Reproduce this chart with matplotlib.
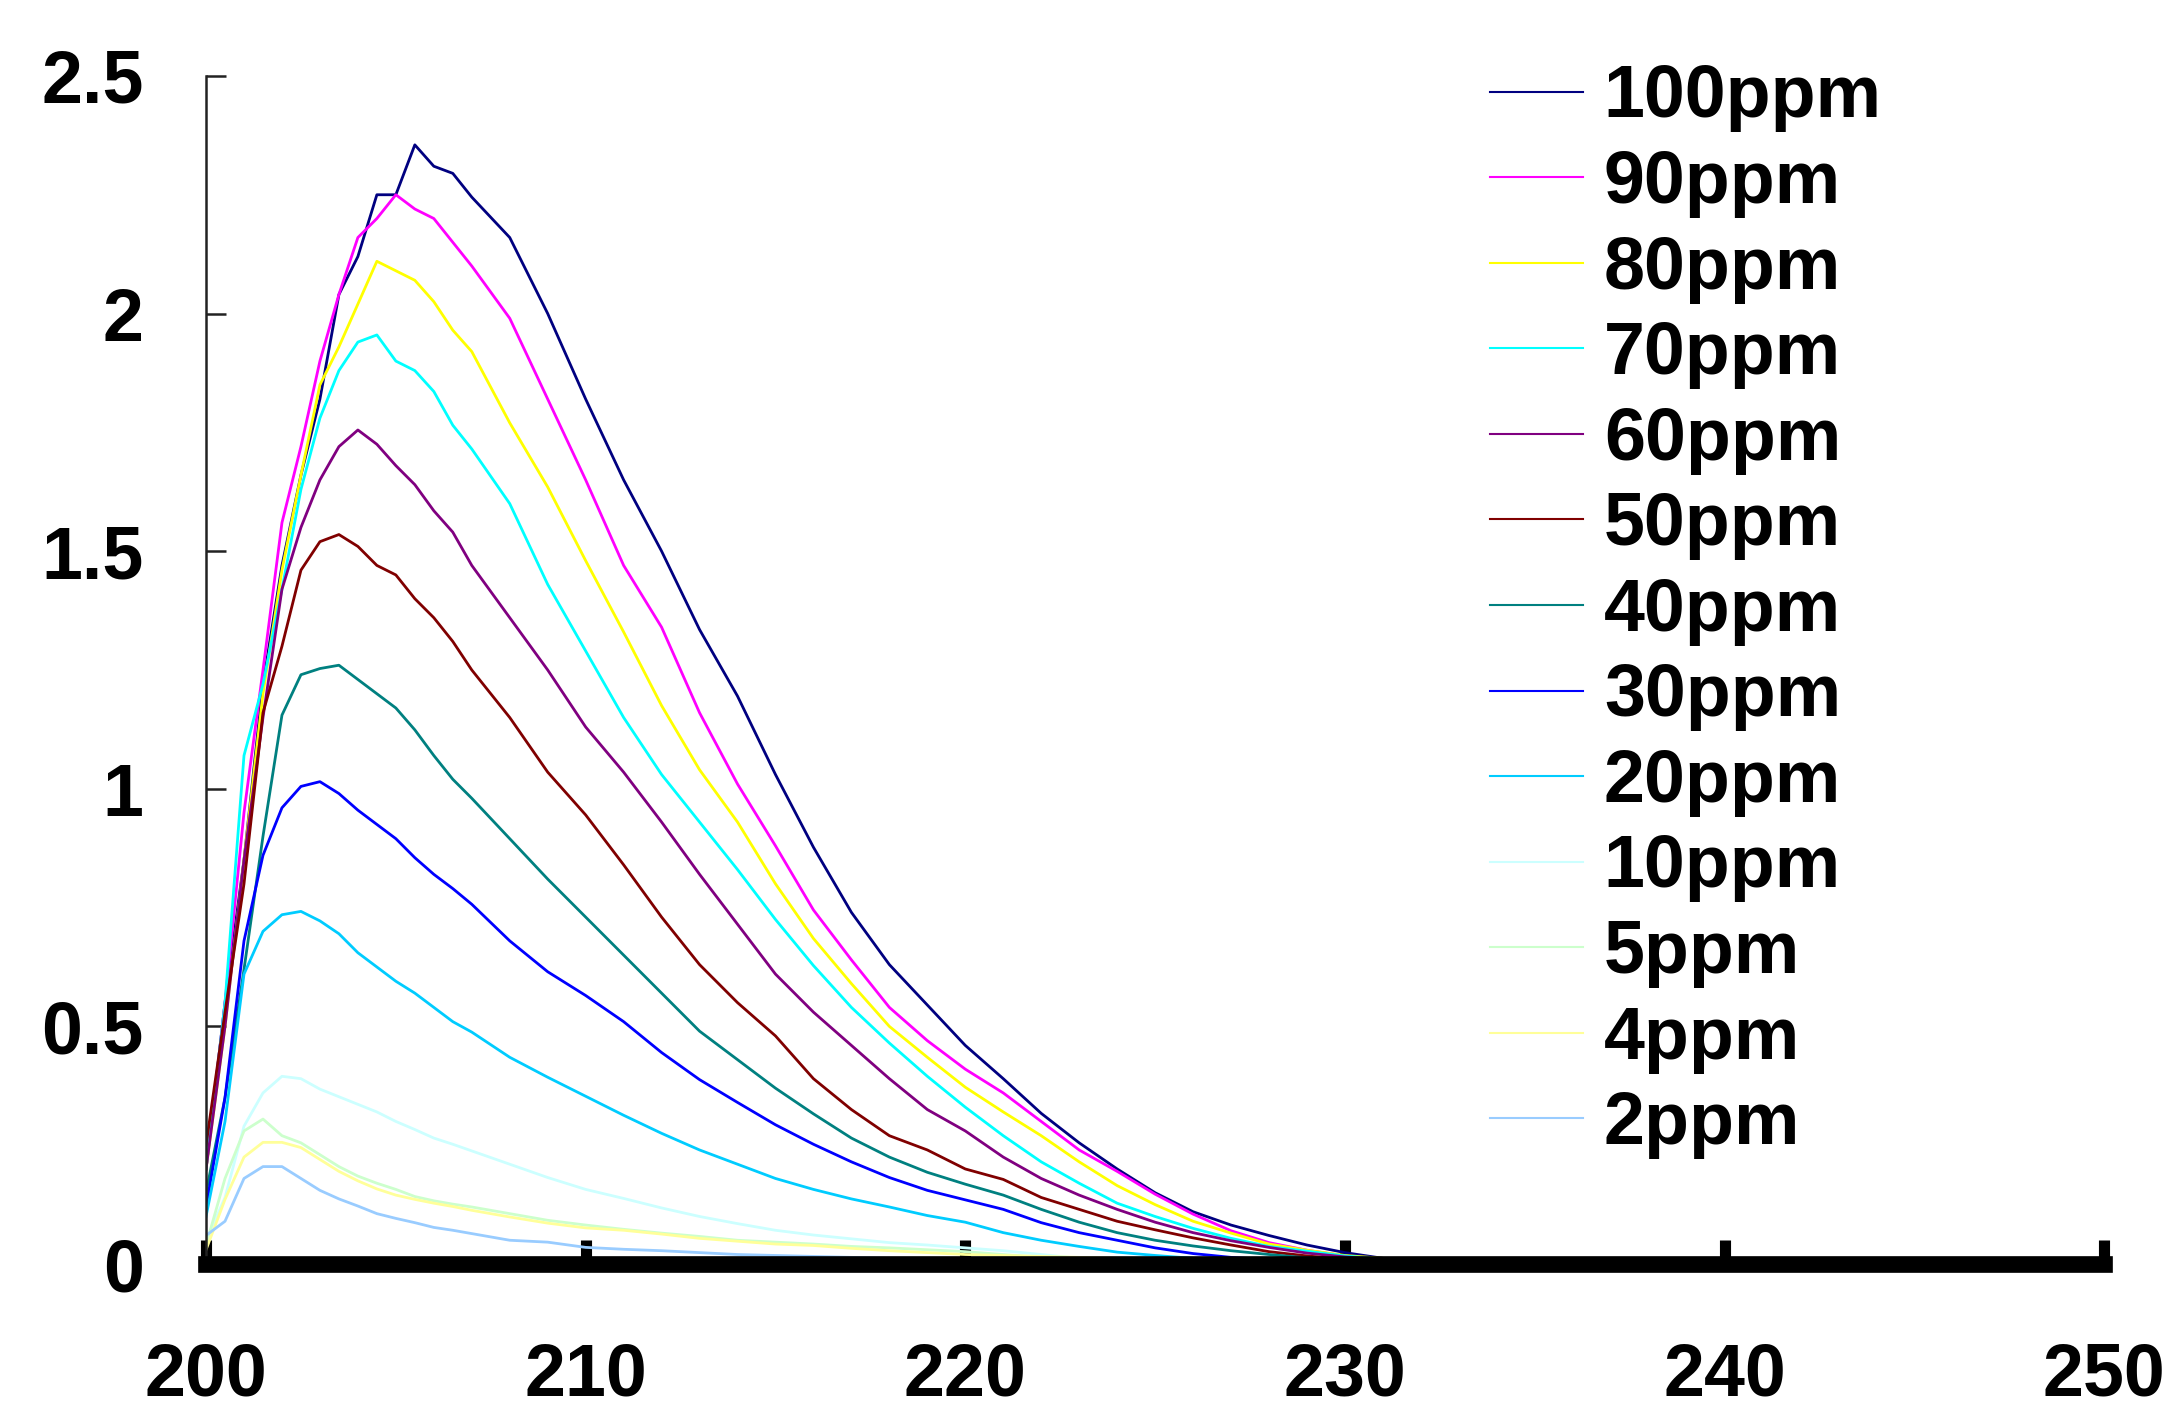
import matplotlib
matplotlib.use('Agg')
import matplotlib.pyplot as plt

plt.rcParams['font.family'] = ['Liberation Sans', 'DejaVu Sans']
plt.rcParams['font.weight'] = 'bold'

# wavelength grid (nm) used for every spectrum
wavelength = [200, 200.5, 201, 201.5, 202, 202.5, 203, 203.5, 204, 204.5, 205, 205.5, 206, 206.5,
              207, 208, 209, 210, 211, 212, 213, 214, 215, 216, 217, 218, 219, 220, 221, 222,
              223, 224, 225, 226, 227, 228, 229, 230, 231, 232, 233, 234, 235, 236, 237, 238]

# absorbance readings, one list per concentration
abs_100 = [0.20, 0.55, 0.85, 1.22, 1.47, 1.66, 1.82, 2.04, 2.12, 2.25, 2.25, 2.355, 2.31, 2.295,
           2.245, 2.16, 2.00, 1.82, 1.65, 1.50, 1.335, 1.195, 1.03, 0.877, 0.74, 0.63, 0.545, 0.46,
           0.39, 0.317, 0.255, 0.20, 0.15, 0.11, 0.082, 0.06, 0.04, 0.024, 0.012, 0.005, 0.002,
           0.001, 0.0, 0.0, 0.0, 0.0]
abs_90 = [0.20, 0.55, 0.95, 1.25, 1.56, 1.72, 1.90, 2.04, 2.16, 2.20, 2.25, 2.22, 2.20, 2.15,
          2.10, 1.99, 1.82, 1.65, 1.47, 1.34, 1.16, 1.01, 0.88, 0.745, 0.64, 0.54, 0.47, 0.41,
          0.36, 0.30, 0.24, 0.195, 0.147, 0.105, 0.07, 0.045, 0.029, 0.017, 0.008, 0.004, 0.002,
          0.001, 0.0, 0.0, 0.0, 0.0]
abs_80 = [0.20, 0.50, 0.85, 1.20, 1.46, 1.66, 1.85, 1.93, 2.02, 2.11, 2.09, 2.07, 2.025, 1.965,
          1.92, 1.77, 1.635, 1.48, 1.33, 1.175, 1.04, 0.93, 0.80, 0.685, 0.59, 0.50, 0.435, 0.372,
          0.32, 0.27, 0.215, 0.165, 0.125, 0.09, 0.065, 0.042, 0.029, 0.018, 0.012, 0.006, 0.003,
          0.002, 0.001, 0.0, 0.0, 0.0]
abs_70 = [0.20, 0.55, 1.07, 1.22, 1.42, 1.63, 1.78, 1.88, 1.94, 1.955, 1.90, 1.88, 1.836, 1.765,
          1.715, 1.60, 1.43, 1.29, 1.15, 1.03, 0.93, 0.83, 0.725, 0.628, 0.54, 0.465, 0.395, 0.33,
          0.27, 0.215, 0.17, 0.128, 0.10, 0.075, 0.054, 0.037, 0.027, 0.017, 0.010, 0.005, 0.003,
          0.001, 0.0, 0.0, 0.0, 0.0]
abs_60 = [0.20, 0.50, 0.85, 1.15, 1.42, 1.55, 1.65, 1.72, 1.755, 1.725, 1.68, 1.64, 1.585, 1.54,
          1.47, 1.36, 1.25, 1.13, 1.035, 0.93, 0.82, 0.715, 0.61, 0.53, 0.46, 0.39, 0.325, 0.28,
          0.225, 0.18, 0.145, 0.115, 0.088, 0.066, 0.049, 0.035, 0.023, 0.015, 0.009, 0.005,
          0.003, 0.002, 0.001, 0.001, 0.0, 0.0]
abs_50 = [0.25, 0.53, 0.80, 1.16, 1.30, 1.46, 1.52, 1.535, 1.51, 1.47, 1.45, 1.40, 1.36, 1.31,
          1.25, 1.15, 1.035, 0.945, 0.84, 0.73, 0.63, 0.55, 0.48, 0.39, 0.325, 0.27, 0.24, 0.20,
          0.178, 0.14, 0.115, 0.09, 0.072, 0.055, 0.04, 0.026, 0.017, 0.010, 0.006, 0.004, 0.002,
          0.001, 0.001, 0.0, 0.0, 0.0]
abs_40 = [0.15, 0.35, 0.62, 0.90, 1.155, 1.24, 1.253, 1.26, 1.23, 1.20, 1.17, 1.124, 1.07, 1.02,
          0.98, 0.895, 0.81, 0.73, 0.65, 0.57, 0.49, 0.43, 0.37, 0.316, 0.265, 0.225, 0.193,
          0.168, 0.145, 0.115, 0.088, 0.066, 0.05, 0.038, 0.028, 0.02, 0.013, 0.008, 0.005, 0.003,
          0.002, 0.001, 0.0, 0.0, 0.0, 0.0]
abs_30 = [0.12, 0.35, 0.68, 0.86, 0.96, 1.005, 1.015, 0.99, 0.955, 0.925, 0.895, 0.855, 0.82, 0.79,
          0.757, 0.68, 0.615, 0.565, 0.51, 0.445, 0.388, 0.34, 0.293, 0.252, 0.215, 0.182, 0.155,
          0.135, 0.115, 0.087, 0.066, 0.05, 0.034, 0.022, 0.014, 0.009, 0.006, 0.004, 0.002,
          0.001, 0.0, 0.0, 0.0, 0.0, 0.0, 0.0]
abs_20 = [0.10, 0.30, 0.61, 0.70, 0.735, 0.742, 0.722, 0.695, 0.655, 0.625, 0.595, 0.57, 0.54, 0.51,
          0.488, 0.435, 0.393, 0.353, 0.313, 0.275, 0.24, 0.21, 0.18, 0.157, 0.137, 0.12, 0.102,
          0.088, 0.066, 0.05, 0.037, 0.025, 0.018, 0.012, 0.007, 0.004, 0.002, 0.001, 0.0, 0.0,
          0.0, 0.0, 0.0, 0.0, 0.0, 0.0]
abs_10 = [0.05, 0.14, 0.29, 0.36, 0.395, 0.39, 0.368, 0.352, 0.336, 0.32, 0.30, 0.283, 0.265, 0.252,
          0.238, 0.21, 0.182, 0.157, 0.138, 0.118, 0.10, 0.085, 0.071, 0.061, 0.053, 0.045, 0.04,
          0.034, 0.028, 0.02, 0.012, 0.006, 0.003, 0.002, 0.001, 0.0, 0.0, 0.0, 0.0, 0.0, 0.0,
          0.0, 0.0, 0.0, 0.0, 0.0]
abs_5 = [0.04, 0.18, 0.28, 0.305, 0.27, 0.255, 0.23, 0.205, 0.185, 0.17, 0.157, 0.142, 0.133, 0.126,
         0.12, 0.106, 0.092, 0.082, 0.073, 0.065, 0.058, 0.05, 0.046, 0.042, 0.037, 0.034, 0.03,
         0.026, 0.02, 0.014, 0.008, 0.004, 0.002, 0.001, 0.0, 0.0, 0.0, 0.0, 0.0, 0.0, 0.0, 0.0,
         0.0, 0.0, 0.0, 0.0]
abs_4 = [0.03, 0.136, 0.225, 0.256, 0.256, 0.245, 0.22, 0.195, 0.175, 0.158, 0.145, 0.136, 0.128,
         0.121, 0.113, 0.099, 0.086, 0.076, 0.071, 0.063, 0.054, 0.048, 0.042, 0.039, 0.033, 0.028,
         0.024, 0.02, 0.018, 0.016, 0.014, 0.012, 0.01, 0.008, 0.006, 0.005, 0.004, 0.003, 0.002,
         0.001, 0.0, 0.0, 0.0, 0.0, 0.0, 0.0]
abs_2 = [0.06, 0.09, 0.18, 0.205, 0.205, 0.18, 0.155, 0.137, 0.122, 0.106, 0.096, 0.087, 0.077, 0.071,
         0.064, 0.05, 0.046, 0.035, 0.031, 0.028, 0.024, 0.02, 0.018, 0.016, 0.014, 0.012, 0.011,
         0.01, 0.008, 0.006, 0.005, 0.004, 0.003, 0.002, 0.001, 0.0, 0.0, 0.0, 0.0, 0.0, 0.0,
         0.0, 0.0, 0.0, 0.0, 0.0]

labels = ['100ppm', '90ppm', '80ppm', '70ppm', '60ppm', '50ppm', '40ppm',
          '30ppm', '20ppm', '10ppm', '5ppm', '4ppm', '2ppm']
colors = ['#000080', '#FF00FF', '#FFFF00', '#00FFFF', '#800080', '#800000', '#008080',
          '#0000FF', '#00CCFF', '#CCFFFF', '#CCFFCC', '#FFFF99', '#99CCFF']
spectra = [abs_100, abs_90, abs_80, abs_70, abs_60, abs_50, abs_40,
           abs_30, abs_20, abs_10, abs_5, abs_4, abs_2]

x_ticks = [200, 210, 220, 230, 240, 250]
x_tick_labels = ['200', '210', '220', '230', '240', '250']
y_ticks = [0, 0.5, 1, 1.5, 2, 2.5]
y_tick_labels = ['0', '0.5', '1', '1.5', '2', '2.5']

fig = plt.figure(figsize=(21.78, 14.09), dpi=100)
ax = fig.add_axes([0.0946, 0.1029, 0.8715, 0.8432])

for label, color, vals in zip(labels, colors, spectra):
    ax.plot(wavelength, vals, '-', color=color, lw=2.0, label=label)

ax.set_xlim(200, 250)
ax.set_ylim(0, 2.5)
ax.set_xticks(x_ticks)
ax.set_xticklabels(x_tick_labels)
ax.set_yticks(y_ticks)
ax.set_yticklabels(y_tick_labels)

ax.spines['top'].set_visible(False)
ax.spines['right'].set_visible(False)
ax.spines['left'].set_linewidth(1.8)
ax.spines['left'].set_color('#222222')
ax.spines['bottom'].set_linewidth(12)
ax.spines['bottom'].set_color('black')

ax.tick_params(axis='y', direction='in', length=14.4, width=1.8, color='#222222',
               pad=45, labelsize=53)
ax.tick_params(axis='x', direction='in', length=17, width=8, color='black',
               pad=56, labelsize=53)
for lab in ax.get_xticklabels() + ax.get_yticklabels():
    lab.set_fontweight('bold')

leg = ax.legend(loc='upper left', bbox_to_anchor=(0.684, 0.955), bbox_transform=fig.transFigure,
                frameon=False, prop={'size': 53, 'weight': 'bold'}, handlelength=1.26,
                handletextpad=0.29, labelspacing=0.225, borderpad=0, borderaxespad=0)
for line in leg.get_lines():
    line.set_linewidth(1.5)

fig.savefig('out.png', dpi=100)
